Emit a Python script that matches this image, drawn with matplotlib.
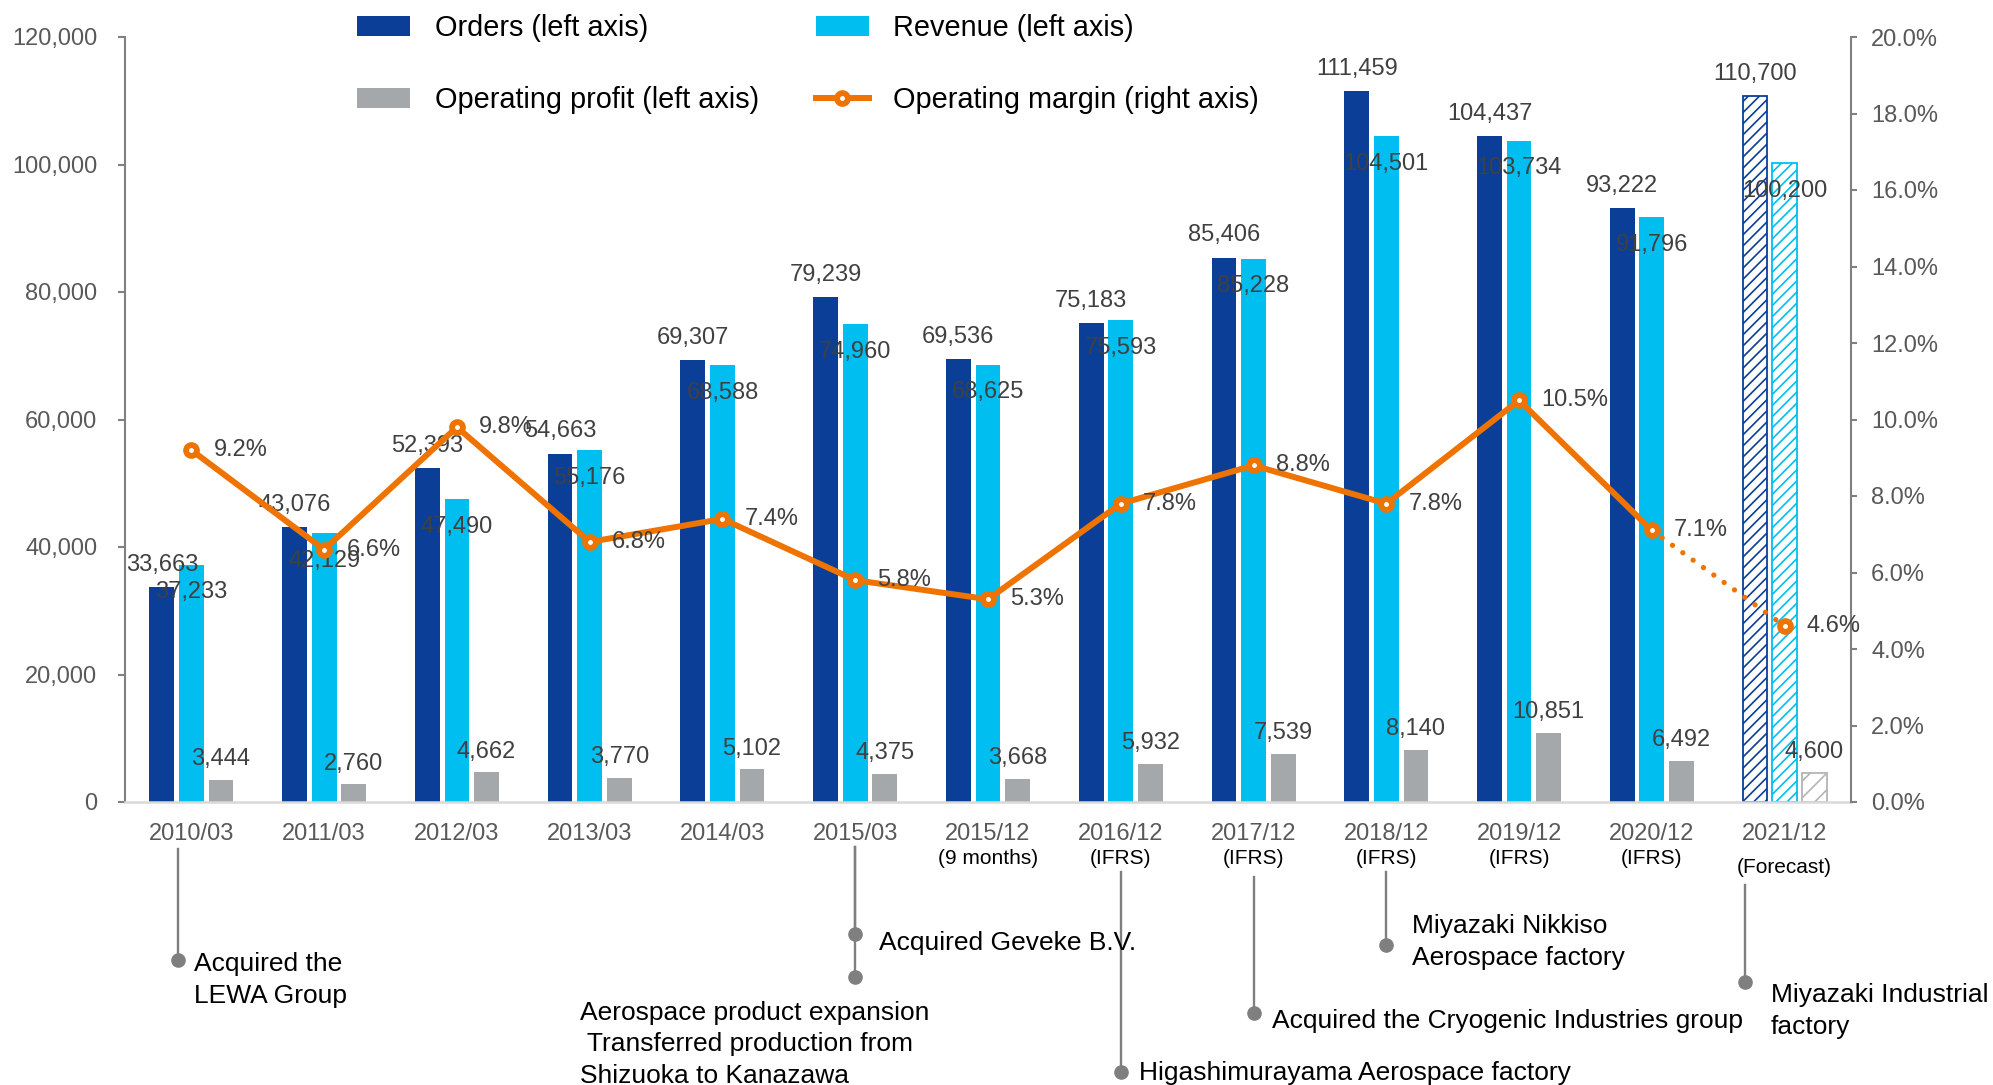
import numpy as np
import matplotlib
matplotlib.use('Agg')
import matplotlib.pyplot as plt
from matplotlib.patches import Patch
from matplotlib.lines import Line2D
from matplotlib.transforms import blended_transform_factory

plt.rcParams['font.family'] = ['Liberation Sans', 'DejaVu Sans']
plt.rcParams['hatch.linewidth'] = 1.2

# Data (millions of yen)
periods = ['2010/03', '2011/03', '2012/03', '2013/03', '2014/03', '2015/03', '2015/12',
           '2016/12', '2017/12', '2018/12', '2019/12', '2020/12', '2021/12']
period_notes = ['', '', '', '', '', '', '(9 months)',
                '(IFRS)', '(IFRS)', '(IFRS)', '(IFRS)', '(IFRS)', '(Forecast)']
orders = [33663, 43076, 52393, 54663, 69307, 79239, 69536, 75183, 85406, 111459, 104437, 93222, 110700]
revenue = [37233, 42129, 47490, 55176, 68588, 74960, 68625, 75593, 85228, 104501, 103734, 91796, 100200]
op_profit = [3444, 2760, 4662, 3770, 5102, 4375, 3668, 5932, 7539, 8140, 10851, 6492, 4600]
op_margin = [9.2, 6.6, 9.8, 6.8, 7.4, 5.8, 5.3, 7.8, 8.8, 7.8, 10.5, 7.1, 4.6]
is_forecast = [False] * 12 + [True]

# Milestones
events = [
    'Acquired the\nLEWA Group',
    'Acquired Geveke B.V.',
    'Aerospace product expansion\n Transferred production from\nShizuoka to Kanazawa',
    'Higashimurayama Aerospace factory',
    'Acquired the Cryogenic Industries group',
    'Miyazaki Nikkiso\nAerospace factory',
    'Miyazaki Industrial\nfactory',
]

# colours
c_orders = '#0B3F97'
c_revenue = '#00BEF0'
c_profit = '#A5A8AB'
c_margin = '#EE7300'
c_label = '#404040'
c_tick = '#595959'
c_axis = '#808080'

W, H = 1993, 1085
fig = plt.figure(figsize=(W / 100, H / 100), dpi=100)
ax = fig.add_axes([125 / W, 1 - 802 / H, (1851 - 125) / W, (802 - 37) / H])
ax2 = ax.twinx()

x = np.arange(len(periods))
fc = np.array(is_forecast)
act = ~fc
w = 0.187
off = 0.223

series = [(orders, c_orders, -off, '///', c_orders),
          (revenue, c_revenue, 0.0, '///', c_revenue),
          (op_profit, c_profit, off, '//', '#B4B4B4')]
for vals, color, dx, hatch, ec in series:
    v = np.array(vals)
    ax.bar(x[act] + dx, v[act], w, color=color, zorder=2)
    ax.bar(x[fc] + dx, v[fc], w, facecolor='white', edgecolor=ec, hatch=hatch,
           linewidth=1.3, zorder=2)

for i in x:
    ax.annotate(f'{orders[i]:,}', (i - off, orders[i]), xytext=(0, 8), textcoords='offset points',
                ha='center', va='bottom', fontsize=17, color=c_label, zorder=5)
    ax.annotate(f'{revenue[i]:,}', (i, revenue[i]), xytext=(0, -20), textcoords='offset points',
                ha='center', va='center', fontsize=17, color=c_label, zorder=5)
    ax.annotate(f'{op_profit[i]:,}', (i + off, op_profit[i]), xytext=(0, 7), textcoords='offset points',
                ha='center', va='bottom', fontsize=17, color=c_label, zorder=5)

# operating margin line
last = np.where(act)[0][-1]
m = np.array(op_margin)
ax2.plot(x[:last + 1], m[:last + 1], color=c_margin, lw=4.3, zorder=3)
ax2.plot(x[last:], m[last:], color=c_margin, lw=3.8, linestyle=(0, (0.01, 2.4)),
         dash_capstyle='round', zorder=3)
ax2.plot(x, m, 'o', ms=7.8, mfc='white', mec=c_margin, mew=4.2, zorder=4)
for i in x:
    ax2.annotate(f'{m[i]:.1f}%', (i, m[i]), xytext=(16, 0), textcoords='offset points',
                 ha='left', va='center', fontsize=17, color=c_label)

# axes
ax.set_xlim(-0.5, len(periods) - 0.5)
ax.set_ylim(0, 120000)
ax2.set_ylim(0, 20)
ax.set_yticks(np.arange(0, 120001, 20000))
ax.yaxis.set_major_formatter(matplotlib.ticker.StrMethodFormatter('{x:,.0f}'))
ax2.set_yticks(np.arange(0, 21, 2))
ax2.yaxis.set_major_formatter(matplotlib.ticker.StrMethodFormatter('{x:.1f}%'))
ax.set_xticks(x, periods)

for a in (ax, ax2):
    a.spines['top'].set_visible(False)
ax.spines['right'].set_visible(False)
ax2.spines['left'].set_visible(False)
ax2.spines['bottom'].set_visible(False)
ax.spines['left'].set_color(c_axis)
ax.spines['left'].set_linewidth(1.5)
ax2.spines['right'].set_color(c_axis)
ax2.spines['right'].set_linewidth(1.5)
ax.spines['bottom'].set_color('#D9D9D9')
ax.spines['bottom'].set_linewidth(1.8)

ax.tick_params(axis='y', length=5, width=1.5, color=c_axis, pad=15, labelsize=17, labelcolor=c_tick)
ax2.tick_params(axis='y', length=4.5, width=1.5, color=c_axis, pad=10, labelsize=17, labelcolor=c_tick)
ax.tick_params(axis='x', length=0, pad=15, labelsize=17, labelcolor=c_tick)

for i, note in enumerate(period_notes):
    if note:
        dy = -47 if is_forecast[i] else -41
        ax.annotate(note, (i, 0), xycoords=('data', 'axes fraction'), xytext=(0, dy),
                    textcoords='offset points', ha='center', va='center', fontsize=15, color='black')

# milestone timeline below the axis
trans = blended_transform_factory(ax.transData, fig.transFigure)


def fy(px):
    return 1 - px / H


# (x position, line top px, dots px, text left px, text row centres px)
ev_layout = [
    (-0.1, 849, [960], 194, [964, 996]),
    (5, 847, [934], 879, [943]),
    (5, 847, [977], 580, [1013, 1044, 1076]),
    (7, 872, [1072], 1139, [1073]),
    (8, 877, [1013], 1272, [1021]),
    (9, 872, [945], 1412, [926, 958]),
    (11.7, 885, [982], 1771, [995, 1027]),
]
for text, (xp, top, dots, tx, rows) in zip(events, ev_layout):
    ax.plot([xp, xp], [fy(top), fy(max(dots))], color='#7F7F7F', lw=1.7,
            transform=trans, clip_on=False)
    ax.plot([xp] * len(dots), [fy(d) for d in dots], 'o', ms=9.5, color='#7F7F7F',
            transform=trans, clip_on=False)
    for line, ry in zip(text.split('\n'), rows):
        fig.text(tx / W, fy(ry), line, ha='left', va='center', fontsize=19, color='black')

# legend
handles = [Patch(facecolor=c_orders), Patch(facecolor=c_profit), Patch(facecolor=c_revenue),
           Line2D([], [], color=c_margin, lw=4.3, marker='o', ms=7.8, mfc='white',
                  mec=c_margin, mew=4.2)]
labels = ['Orders (left axis)', 'Operating profit (left axis)', 'Revenue (left axis)',
          'Operating margin (right axis)']
fig.legend(handles, labels, ncol=2, loc='upper left', bbox_to_anchor=(357 / W, 1 - 14 / H),
           frameon=False, fontsize=20.8, handlelength=1.83, handleheight=0.71,
           handletextpad=0.86, columnspacing=1.97, labelspacing=1.52, borderpad=0,
           borderaxespad=0, numpoints=1)

fig.savefig('out.png', dpi=100, facecolor='white')
